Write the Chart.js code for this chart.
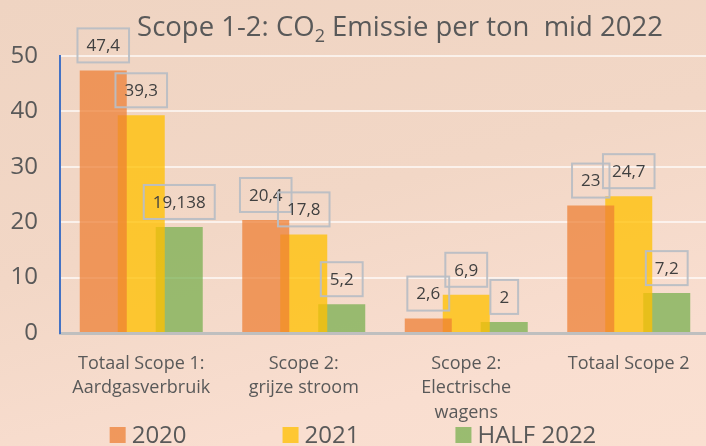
<!DOCTYPE html>
<html>
<head>
<meta charset="utf-8">
<script src="https://cdn.jsdelivr.net/npm/chart.js@4/dist/chart.umd.min.js"></script>
<style>
  html, body { margin: 0; padding: 0; overflow: hidden; width: 706px; height: 446px; }
  body { background: linear-gradient(165deg, #efd4c2 0%, #f2d7c6 45%, #f9ded0 80%, #fae0d1 100%); }
  #wrap { position: absolute; left: 0; top: 0; width: 720px; height: 446px; }
</style>
</head>
<body>
<div id="wrap"><canvas id="c" width="720" height="446"></canvas></div>
<script>
const categories = [["Totaal Scope 1:", "Aardgasverbruik"], ["Scope 2:", "grijze stroom"], ["Scope 2:", "Electrische", "wagens"], "Totaal Scope 2"];
const seriesLabels = ["2020", "2021", "HALF 2022"];
const values2020 = [47.4, 20.4, 2.6, 23];
const values2021 = [39.3, 17.8, 6.9, 24.7];
const valuesHalf2022 = [19.138, 5.2, 2, 7.2];
const yMin = 0, yMax = 50, yStep = 10;
const titleParts = ["Scope 1-2: CO", "2", " Emissie per ton  mid 2022"];

const FONT = '"Open Sans", "Liberation Sans", sans-serif';
const colors = ["rgba(237,125,49,0.72)", "rgba(255,192,0,0.76)", "rgba(112,173,71,0.70)"];

const labelPlugin = {
  id: 'boxLabels',
  afterDatasetsDraw(chart) {
    const ctx = chart.ctx;
    ctx.save();
    ctx.font = '17px ' + FONT;
    ctx.textAlign = 'center';
    ctx.textBaseline = 'middle';
    chart.data.datasets.forEach((ds, di) => {
      const meta = chart.getDatasetMeta(di);
      meta.data.forEach((el, i) => {
        const txt = String(ds.data[i]).replace('.', ',');
        const w = ctx.measureText(txt).width + 18;
        const h = 34;
        const cx = el.x, cy = el.y - 25;
        ctx.strokeStyle = 'rgba(185,190,196,0.95)';
        ctx.lineWidth = 2;
        ctx.strokeRect(cx - w / 2, cy - h / 2, w, h);
        ctx.fillStyle = '#404040';
        ctx.fillText(txt, cx, cy + 1);
      });
    });
    ctx.restore();
  }
};

const titleLegendPlugin = {
  id: 'titleLegend',
  afterDraw(chart) {
    const ctx = chart.ctx;
    ctx.save();
    // title
    ctx.fillStyle = '#595959';
    ctx.textBaseline = 'alphabetic';
    ctx.textAlign = 'left';
    const big = '27.5px ' + FONT, small = '18px ' + FONT;
    ctx.font = big; const w1 = ctx.measureText(titleParts[0]).width;
    ctx.font = small; const w2 = ctx.measureText(titleParts[1]).width;
    ctx.font = big; const w3 = ctx.measureText(titleParts[2]).width;
    let x = 400 - (w1 + w2 + w3) / 2;
    const base = 36;
    ctx.font = big; ctx.fillText(titleParts[0], x, base); x += w1;
    ctx.font = small; ctx.fillText(titleParts[1], x, base + 6); x += w2;
    ctx.font = big; ctx.fillText(titleParts[2], x, base);
    // legend
    ctx.font = '24px ' + FONT;
    ctx.textBaseline = 'middle';
    const box = 16, gap = 6, spacing = 96;
    const items = chart.data.datasets.map(d => ({ label: d.label, color: d.backgroundColor, w: box + gap + ctx.measureText(d.label).width }));
    const total = items.reduce((a, it) => a + it.w, 0) + spacing * (items.length - 1);
    let lx = 353 - total / 2;
    const ly = 435;
    items.forEach(it => {
      ctx.fillStyle = it.color;
      ctx.fillRect(lx, ly - box / 2, box, box);
      ctx.fillStyle = '#595959';
      ctx.fillText(it.label, lx + box + gap, ly + 1);
      lx += it.w + spacing;
    });
    ctx.restore();
  }
};

new Chart(document.getElementById('c'), {
  type: 'bar',
  data: {
    labels: categories,
    datasets: [
      { label: seriesLabels[0], data: values2020, backgroundColor: colors[0] },
      { label: seriesLabels[1], data: values2021, backgroundColor: colors[1] },
      { label: seriesLabels[2], data: valuesHalf2022, backgroundColor: colors[2] }
    ]
  },
  options: {
    responsive: false,
    animation: false,
    devicePixelRatio: 1,
    layout: { padding: { top: 56, right: 10, left: 0, bottom: 0 } },
    datasets: { bar: { categoryPercentage: 0.7015, barPercentage: 1.237 } },
    plugins: { legend: { display: false }, title: { display: false }, tooltip: { enabled: false } },
    scales: {
      x: {
        grid: { display: false, drawTicks: false },
        border: { color: '#bfbfbf', width: 3 },
        ticks: { color: '#595959', font: { family: FONT, size: 18, lineHeight: 1.38 }, padding: 18, maxRotation: 0, autoSkip: false },
        afterFit: s => { s.height = 113; }
      },
      y: {
        min: yMin, max: yMax,
        grid: { drawTicks: false, lineWidth: 2, color: c => (c.tick && c.tick.value === 0) ? 'rgba(0,0,0,0)' : 'rgba(255,255,255,0.65)' },
        border: { color: '#4472c4', width: 2 },
        ticks: { stepSize: yStep, color: '#595959', font: { family: FONT, size: 24 }, padding: 22 },
        afterFit: s => { s.width = 60; }
      }
    }
  },
  plugins: [labelPlugin, titleLegendPlugin]
});
</script>
</body>
</html>
